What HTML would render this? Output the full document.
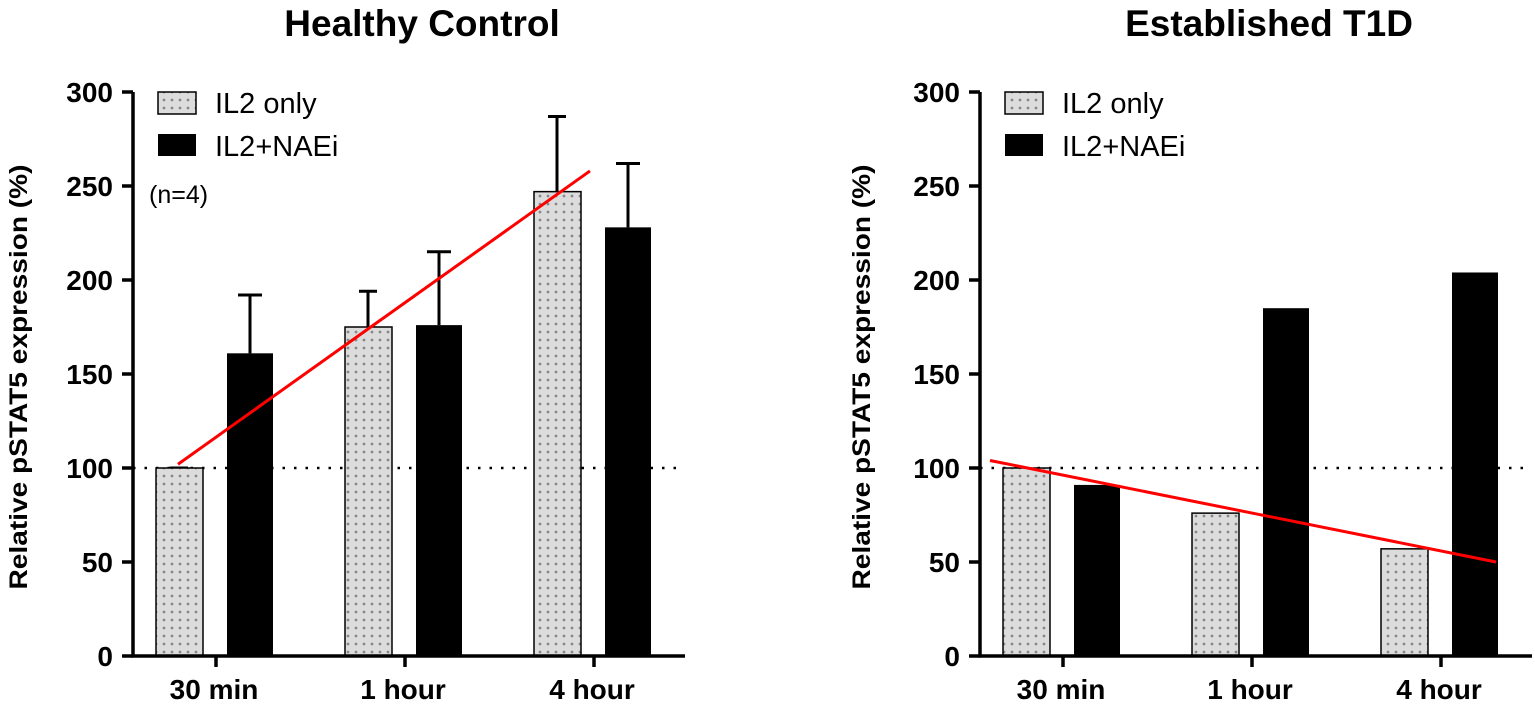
<!DOCTYPE html>
<html><head><meta charset="utf-8"><style>
body{margin:0;background:#fff;width:1535px;height:705px;overflow:hidden}
svg text{font-family:"Liberation Sans",Arial,sans-serif}
</style></head><body>
<svg id="c" width="1535" height="705">
<defs>
<pattern id="dots" width="8" height="8" patternUnits="userSpaceOnUse">
<rect width="8" height="8" fill="#dcdcdc"/><circle cx="4" cy="4" r="1.4" fill="#888"/>
</pattern>
</defs>
</svg>
<script>
const categories=["30 min","1 hour","4 hour"];
const hcIL2=[100,175,247];
const hcNAEi=[161,176,228];
const hcIL2Err=[100,194,287];
const hcNAEiErr=[192,215,262];
const t1dIL2=[100,76,57];
const t1dNAEi=[91,185,204];
const yTicks=[0,50,100,150,200,250,300];
const hcTrend=[102,258];
const t1dTrend=[104,50];
const NS="http://www.w3.org/2000/svg";
const svg=document.getElementById('c');
function mk(t,a,txt){const e=document.createElementNS(NS,t);for(const k in a)e.setAttribute(k,a[k]);if(txt!==undefined)e.textContent=txt;svg.appendChild(e);return e;}
function panel(ax,title,ytX,il2,naei,il2e,naee,trend,trendX,name,showN){
  const y=v=>656-v*1.88;
  const cx=i=>ax+83+i*189;
  let e=mk('text',{x:ax+289,y:36,'text-anchor':'middle','font-size':37,'font-weight':'bold'},title);
  
  
  e=mk('text',{transform:`translate(${ytX},377) rotate(-90)`,'text-anchor':'middle','font-size':25,'font-weight':'bold','textLength':425,'lengthAdjust':'spacingAndGlyphs'},'Relative pSTAT5 expression (%)');
  
  
  e=mk('line',{x1:ax,x2:ax+545,y1:y(100),y2:y(100),stroke:'#000','stroke-width':2.5,'stroke-dasharray':'2.5 9'});
  
  
  for(let i=0;i<categories.length;i++){
    const c=cx(i);
    if(il2e){
      e=mk('path',{d:`M${c-37},${y(il2[i])}V${y(il2e[i])}M${c-46},${y(il2e[i])}H${c-28}`,stroke:'#000','stroke-width':3,fill:'none'});
      
      
      e=mk('path',{d:`M${c+34},${y(naei[i])}V${y(naee[i])}M${c+22},${y(naee[i])}H${c+46}`,stroke:'#000','stroke-width':3,fill:'none'});
      
      
    }
    e=mk('rect',{x:c-60,y:y(il2[i]),width:47,height:656-y(il2[i]),fill:'url(#dots)',stroke:'#000','stroke-width':1.5});
    
    
    e=mk('rect',{x:c+11,y:y(naei[i]),width:46,height:656-y(naei[i]),fill:'#000'});
    
    
    mk('line',{x1:c,x2:c,y1:656,y2:667,stroke:'#000','stroke-width':3.5});
    e=mk('text',{x:c-2,y:699,'text-anchor':'middle','font-size':28,'font-weight':'bold'},categories[i]);
    
    
  }
  e=mk('path',{d:`M${ax},${y(300)}V656H${ax+552}`,stroke:'#000','stroke-width':3.5,fill:'none'});
  
  
  yTicks.forEach(t=>{
    mk('line',{x1:ax-11,x2:ax,y1:y(t),y2:y(t),stroke:'#000','stroke-width':3.5});
    e=mk('text',{x:ax-20,y:y(t)+10,'text-anchor':'end','font-size':28,'font-weight':'bold'},t);
    
    
  });
  e=mk('line',{x1:trendX[0],y1:y(trend[0]),x2:trendX[1],y2:y(trend[1]),stroke:'#f00','stroke-width':3});
  
  
  const lx=ax+25;
  e=mk('rect',{x:lx,y:92,width:38,height:22,fill:'url(#dots)',stroke:'#000','stroke-width':1.5});
  
  
  e=mk('text',{x:lx+57,y:113,'font-size':29},'IL2 only');
  
  
  e=mk('rect',{x:lx,y:134,width:38,height:22,fill:'#000'});
  
  
  e=mk('text',{x:lx+57,y:156,'font-size':29},'IL2+NAEi');
  
  
  if(showN){
    e=mk('text',{x:ax+16,y:203,'font-size':25},'(n=4)');
    
    
  }
}
panel(133,'Healthy Control',27,hcIL2,hcNAEi,hcIL2Err,hcNAEiErr,hcTrend,[178,590],'healthy-control',true);
panel(980,'Established T1D',870,t1dIL2,t1dNAEi,null,null,t1dTrend,[990,1496],'established-t1d',false);
</script>
</body></html>
